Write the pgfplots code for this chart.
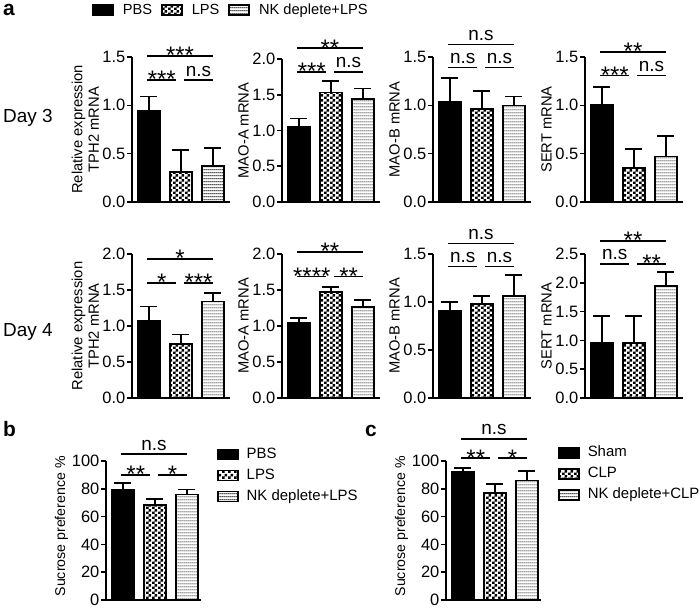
\documentclass[border=0pt]{standalone}
\usepackage{fontspec}
\setmainfont{Liberation Sans}
\usepackage{pgfplots}
\pgfplotsset{compat=1.18}
\usetikzlibrary{patterns}

\pgfdeclarepatternformonly{fcheck}{\pgfpointorigin}{\pgfqpoint{5.4bp}{5.4bp}}{\pgfqpoint{5.4bp}{5.4bp}}{%
  \pgfpathrectangle{\pgfpointorigin}{\pgfqpoint{2.7bp}{2.7bp}}%
  \pgfpathrectangle{\pgfqpoint{2.7bp}{2.7bp}}{\pgfqpoint{2.7bp}{2.7bp}}%
  \pgfusepath{fill}}
\pgfdeclarepatternformonly{fhl}{\pgfpointorigin}{\pgfqpoint{2bp}{3bp}}{\pgfqpoint{2bp}{3bp}}{%
  \pgfsetlinewidth{0.9bp}%
  \pgfpathmoveto{\pgfqpoint{-0.2bp}{1.5bp}}\pgfpathlineto{\pgfqpoint{2.2bp}{1.5bp}}\pgfusepath{stroke}}

\pgfplotsset{
  panel/.style={
    x=32bp, xmin=-0.53, xmax=2.53, ymin=0,
    axis x line=bottom, axis y line=left,
    axis line style={-, line width=1.6bp},
    xtick=\empty,
    tick align=outside, major tick length=5bp,
    every tick/.style={black, line width=1.6bp},
    yticklabel style={font=\fontsize{16.5}{17}\selectfont, inner xsep=1.5bp, inner ysep=0bp,
      /pgf/number format/fixed, /pgf/number format/fixed zerofill,
      /pgf/number format/precision=1, /pgf/number format/assume math mode=true},
    ylabel style={font=\fontsize{14.8}{16.5}\selectfont, align=center, inner sep=2bp},
    clip=false, anchor=south west,
  },
  bareb/.style={error bars/y dir=plus, error bars/y explicit,
    error bars/error mark=|,
    error bars/error bar style={line width=1.6bp, black},
    error bars/error mark options={line width=1.6bp, black, mark size=8.5bp}},
  pbs/.style={ybar, bar width=22bp, bar shift=0pt, draw=black, fill=black, line width=1.6bp, bareb,
    legend image code/.code={\draw[##1] (0bp,-5bp) rectangle (20bp,5bp);}},
  lps/.style={ybar, bar width=22bp, bar shift=0pt, draw=black, pattern=fcheck, pattern color=black, line width=1.6bp, bareb,
    legend image code/.code={\draw[##1] (0bp,-5bp) rectangle (20bp,5bp);}},
  nkl/.style={ybar, bar width=22bp, bar shift=0pt, draw=black, pattern=fhl, pattern color=black, line width=1.6bp, bareb,
    legend image code/.code={\draw[##1] (0bp,-5bp) rectangle (20bp,5bp);}},
}

\newcommand{\st}[1]{{\fontsize{24}{24}\selectfont\raisebox{-11.8bp}{#1}}}
\newcommand{\nss}{{\fontsize{19}{19}\selectfont n.s}}
\newcommand{\sigs}[5]{%
  \draw[line width=1.6bp] (axis cs:-0.06,#1) -- (axis cs:2.0,#1);
  \node[anchor=base, inner sep=0pt, yshift=4bp] at (axis cs:0.97,#1) {#2};
  \draw[line width=1.6bp] (axis cs:-0.06,#3) -- (axis cs:0.86,#3);
  \draw[line width=1.6bp] (axis cs:1.1,#3) -- (axis cs:2.0,#3);
  \node[anchor=base, inner sep=0pt, yshift=4bp] at (axis cs:0.40,#3) {#4};
  \node[anchor=base, inner sep=0pt, yshift=4bp] at (axis cs:1.55,#3) {#5};
}

\begin{document}
\begin{tikzpicture}

% ---------- Day 3 ----------
\begin{axis}[panel, at={(132bp,-202bp)}, y=96.7bp, ymax=1.5, ytick={0,0.5,1,1.5},
  ylabel={Relative expression\\TPH2 mRNA},
  legend columns=3,
  legend style={at={(axis description cs:-0.408,1.324)}, anchor=west, draw=none, fill=none,
    inner sep=0pt, font=\fontsize{14.7}{18}\selectfont,
    nodes={inner sep=0pt},
    /tikz/every odd column/.style={column sep=9bp},
    /tikz/every even column/.style={column sep=9bp}}]
\addplot[pbs] coordinates {(0,0.94) +- (0,0.15)};
\addplot[lps] coordinates {(1,0.31) +- (0,0.23)};
\addplot[nkl] coordinates {(2,0.37) +- (0,0.19)};
\legend{PBS, LPS, NK deplete+LPS}
\sigs{1.51}{\st{***}}{1.26}{\st{***}}{\nss}
\end{axis}

\begin{axis}[panel, at={(282bp,-202bp)}, y=71.5bp, ymax=2, ytick={0,0.5,1,1.5,2},
  ylabel={MAO-A mRNA}]
\addplot[pbs] coordinates {(0,1.05) +- (0,0.12)};
\addplot[lps] coordinates {(1,1.53) +- (0,0.16)};
\addplot[nkl] coordinates {(2,1.44) +- (0,0.15)};
\sigs{2.15}{\st{**}}{1.82}{\st{***}}{\nss}
\end{axis}

\begin{axis}[panel, at={(433bp,-202bp)}, y=96.7bp, ymax=1.5, ytick={0,0.5,1,1.5},
  ylabel={MAO-B mRNA}]
\addplot[pbs] coordinates {(0,1.04) +- (0,0.24)};
\addplot[lps] coordinates {(1,0.96) +- (0,0.19)};
\addplot[nkl] coordinates {(2,1.00) +- (0,0.09)};
\sigs{1.63}{\nss}{1.39}{\nss}{\nss}
\end{axis}

\begin{axis}[panel, at={(585bp,-202bp)}, y=96.7bp, ymax=1.5, ytick={0,0.5,1,1.5},
  ylabel={SERT mRNA}]
\addplot[pbs] coordinates {(0,1.01) +- (0,0.18)};
\addplot[lps] coordinates {(1,0.35) +- (0,0.20)};
\addplot[nkl] coordinates {(2,0.47) +- (0,0.21)};
\sigs{1.55}{\st{**}}{1.31}{\st{***}}{\nss}
\end{axis}

% ---------- Day 4 ----------
\begin{axis}[panel, at={(132bp,-398bp)}, y=72bp, ymax=2, ytick={0,0.5,1,1.5,2},
  ylabel={Relative expression\\TPH2 mRNA}]
\addplot[pbs] coordinates {(0,1.07) +- (0,0.20)};
\addplot[lps] coordinates {(1,0.75) +- (0,0.13)};
\addplot[nkl] coordinates {(2,1.34) +- (0,0.12)};
\sigs{1.93}{\st{*}}{1.60}{\st{*}}{\st{***}}
\end{axis}

\begin{axis}[panel, at={(282bp,-398bp)}, y=72bp, ymax=2, ytick={0,0.5,1,1.5,2},
  ylabel={MAO-A mRNA}]
\addplot[pbs] coordinates {(0,1.04) +- (0,0.07)};
\addplot[lps] coordinates {(1,1.47) +- (0,0.07)};
\addplot[nkl] coordinates {(2,1.26) +- (0,0.10)};
\sigs{2.03}{\st{**}}{1.69}{\st{****}}{\st{**}}
\end{axis}

\begin{axis}[panel, at={(433bp,-398bp)}, y=96bp, ymax=1.5, ytick={0,0.5,1,1.5},
  ylabel={MAO-B mRNA}]
\addplot[pbs] coordinates {(0,0.91) +- (0,0.09)};
\addplot[lps] coordinates {(1,0.98) +- (0,0.08)};
\addplot[nkl] coordinates {(2,1.06) +- (0,0.22)};
\sigs{1.61}{\nss}{1.37}{\nss}{\nss}
\end{axis}

\begin{axis}[panel, at={(585bp,-398bp)}, y=57.6bp, ymax=2.5, ytick={0,0.5,1,1.5,2,2.5},
  ylabel={SERT mRNA}]
\addplot[pbs] coordinates {(0,0.95) +- (0,0.47)};
\addplot[lps] coordinates {(1,0.95) +- (0,0.47)};
\addplot[nkl] coordinates {(2,1.94) +- (0,0.25)};
\sigs{2.73}{\st{**}}{2.33}{\nss}{\st{**}}
\end{axis}

% ---------- b ----------
\begin{axis}[panel, at={(106bp,-600bp)}, xmax=2.45, y=1.39bp, ymax=100, ytick={0,20,40,60,80,100},
  yticklabel style={/pgf/number format/precision=0},
  ylabel={Sucrose preference \%},
  ylabel style={font=\fontsize{14.2}{16}\selectfont, at={(ticklabel cs:0.53)}},
  legend cell align=left,
  legend style={at={(axis description cs:1.163,1.10)}, anchor=north west, draw=none, fill=none,
    inner sep=0pt, font=\fontsize{15}{18}\selectfont, row sep=7bp,
    nodes={inner sep=0pt, text height=11bp, text depth=3bp},
    /tikz/every odd column/.style={column sep=8bp}}]
\addplot[pbs] coordinates {(0,79.5) +- (0,4.5)};
\addplot[lps] coordinates {(1,68.5) +- (0,4)};
\addplot[nkl] coordinates {(2,76) +- (0,3.5)};
\legend{PBS, LPS, NK deplete+LPS}
\sigs{105}{\nss}{90}{\st{**}}{\st{*}}
\end{axis}

% ---------- c ----------
\begin{axis}[panel, at={(446bp,-600bp)}, xmax=2.45, y=1.39bp, ymax=100, ytick={0,20,40,60,80,100},
  yticklabel style={/pgf/number format/precision=0},
  ylabel={Sucrose preference \%},
  ylabel style={font=\fontsize{14.2}{16}\selectfont, at={(ticklabel cs:0.53)}},
  legend cell align=left,
  legend style={at={(axis description cs:1.174,1.11)}, anchor=north west, draw=none, fill=none,
    inner sep=0pt, font=\fontsize{15}{18}\selectfont, row sep=7bp,
    nodes={inner sep=0pt, text height=11bp, text depth=3bp},
    /tikz/every odd column/.style={column sep=8bp}}]
\addplot[pbs] coordinates {(0,92) +- (0,3)};
\addplot[lps] coordinates {(1,77) +- (0,6.5)};
\addplot[nkl] coordinates {(2,86) +- (0,7)};
\legend{Sham, CLP, NK deplete+CLP}
\sigs{116}{\nss}{102}{\st{**}}{\st{*}}
\end{axis}

% ---------- labels ----------
\node[anchor=base west, inner sep=0pt, font=\fontsize{21}{21}\selectfont\bfseries] at (3bp,-15bp) {a};
\node[anchor=base west, inner sep=0pt, font=\fontsize{21}{21}\selectfont\bfseries] at (3bp,-436bp) {b};
\node[anchor=base west, inner sep=0pt, font=\fontsize{21}{21}\selectfont\bfseries] at (365bp,-436bp) {c};
\node[anchor=base west, inner sep=0pt, font=\fontsize{19}{19}\selectfont] at (3bp,-122bp) {Day 3};
\node[anchor=base west, inner sep=0pt, font=\fontsize{19}{19}\selectfont] at (3bp,-336bp) {Day 4};

\pgfresetboundingbox
\path (0bp,0bp) rectangle (700bp,-609bp);
\end{tikzpicture}
\end{document}
